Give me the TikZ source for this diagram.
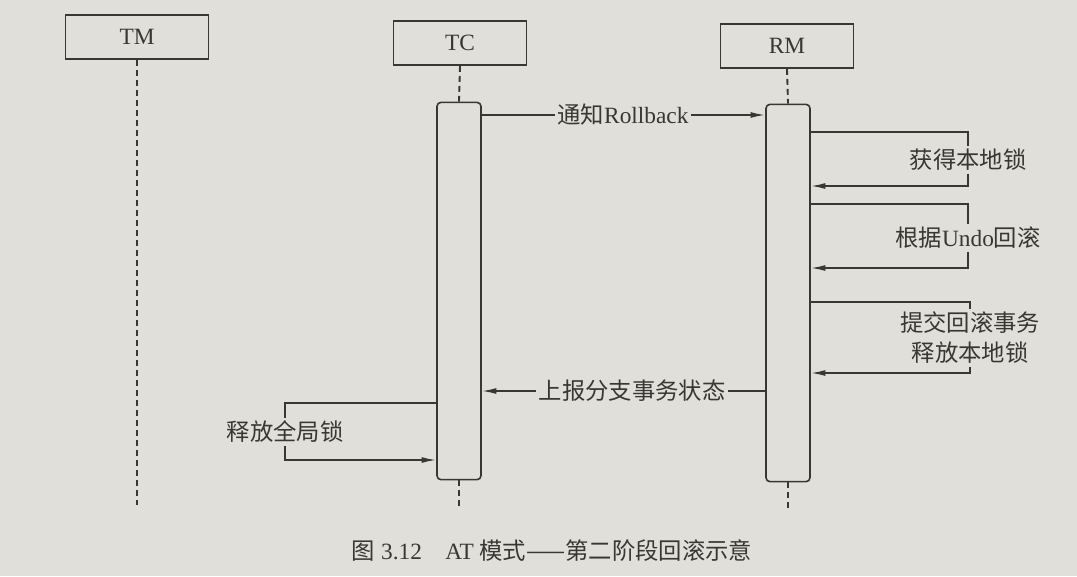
\documentclass[tikz,border=0pt]{standalone}
\usepackage{fontspec}
\setmainfont{Liberation Serif}
\newfontfamily\cjk{Noto Sans CJK SC}
\usetikzlibrary{arrows.meta}
\definecolor{paper}{RGB}{224,223,218}
\definecolor{ink}{RGB}{55,55,53}
\tikzset{
  line/.style={ink, line width=1.2pt},
  msg/.style={line, -{Latex[length=11pt,width=4.5pt]}},
  life/.style={ink, line width=1.4pt, dash pattern=on 4.5pt off 3pt},
  head/.style={draw=ink, line width=1.2pt, minimum width=100pt, minimum height=33pt},
  bar/.style={draw=ink, line width=1.2pt, rounded corners=3pt, minimum width=33pt, minimum height=283pt},
  txt/.style={text=ink, inner sep=2pt}
}
\begin{document}
\begin{tikzpicture}[x=0.75pt, y=-0.75pt, font=\fontsize{17.5}{22.5}\selectfont]
                \fill [paper] (0, 0) rectangle (1077, 576);
                \useasboundingbox (0, 0) rectangle (1077, 576);
                \node [head, minimum width=107pt, txt] (tm) at (137, 37) {TM};
                \node [head, txt] (tc) at (460, 43) {TC};
                \node [head, txt] (rm) at (787, 46) {RM};
                \node [bar] (tcbar) at (459, 291) {};
                \node [bar] (rmbar) at (788, 293) {};
                \coordinate (tmend) at (137, 505);
                \coordinate (tcend) at (459, 507);
                \coordinate (rmend) at (788, 510);
                \draw [life] (tm.south) -- (tmend);
                \draw [life] (tc.south) -- (tcbar.north);
                \draw [life] (tcbar.south) -- (tcend);
                \draw [life] (rm.south) -- (rmbar.north);
                \draw [life] (rmbar.south) -- (rmend);
                \node [txt] (rb) at (623, 115) {{\cjk 通知}Rollback};
                \draw [line] (tcbar.east |- rb) -- (rb.west);
                \draw [msg] (rb.east) -- (rmbar.west |- rb);
                \node [txt] (lk) at (968, 160) {\cjk 获得本地锁};
                \draw [line] (rmbar.east |- 0, 132) -| (lk.north);
                \draw [msg] (lk.south) |- (rmbar.east |- 0, 186);
                \node [txt] (undo) at (968, 238) {{\cjk 根据}Undo{\cjk 回滚}};
                \draw [line] (rmbar.east |- 0, 204) -| (undo.north);
                \draw [msg] (undo.south) |- (rmbar.east |- 0, 268);
                \node [txt, align=center] (cm) at (970, 338) {\cjk 提交回滚事务\\\cjk 释放本地锁};
                \draw [line] (rmbar.east |- 0, 302) -| (cm.north);
                \draw [msg] (cm.south) |- (rmbar.east |- 0, 373);
                \node [txt] (st) at (632, 391) {\cjk 上报分支事务状态};
                \draw [line] (rmbar.west |- st) -- (st.east);
                \draw [msg] (st.west) -- (tcbar.east |- st);
                \node [txt] (gl) at (285, 432) {\cjk 释放全局锁};
                \draw [line] (tcbar.west |- 0, 403) -| (gl.north);
                \draw [msg] (gl.south) |- (tcbar.west |- 0, 460);
                \node [txt] (cap) at (552, 551) {{\cjk 图} 3.12\quad AT {\cjk 模式——第二阶段回滚示意}};
            \end{tikzpicture}
\end{document}
